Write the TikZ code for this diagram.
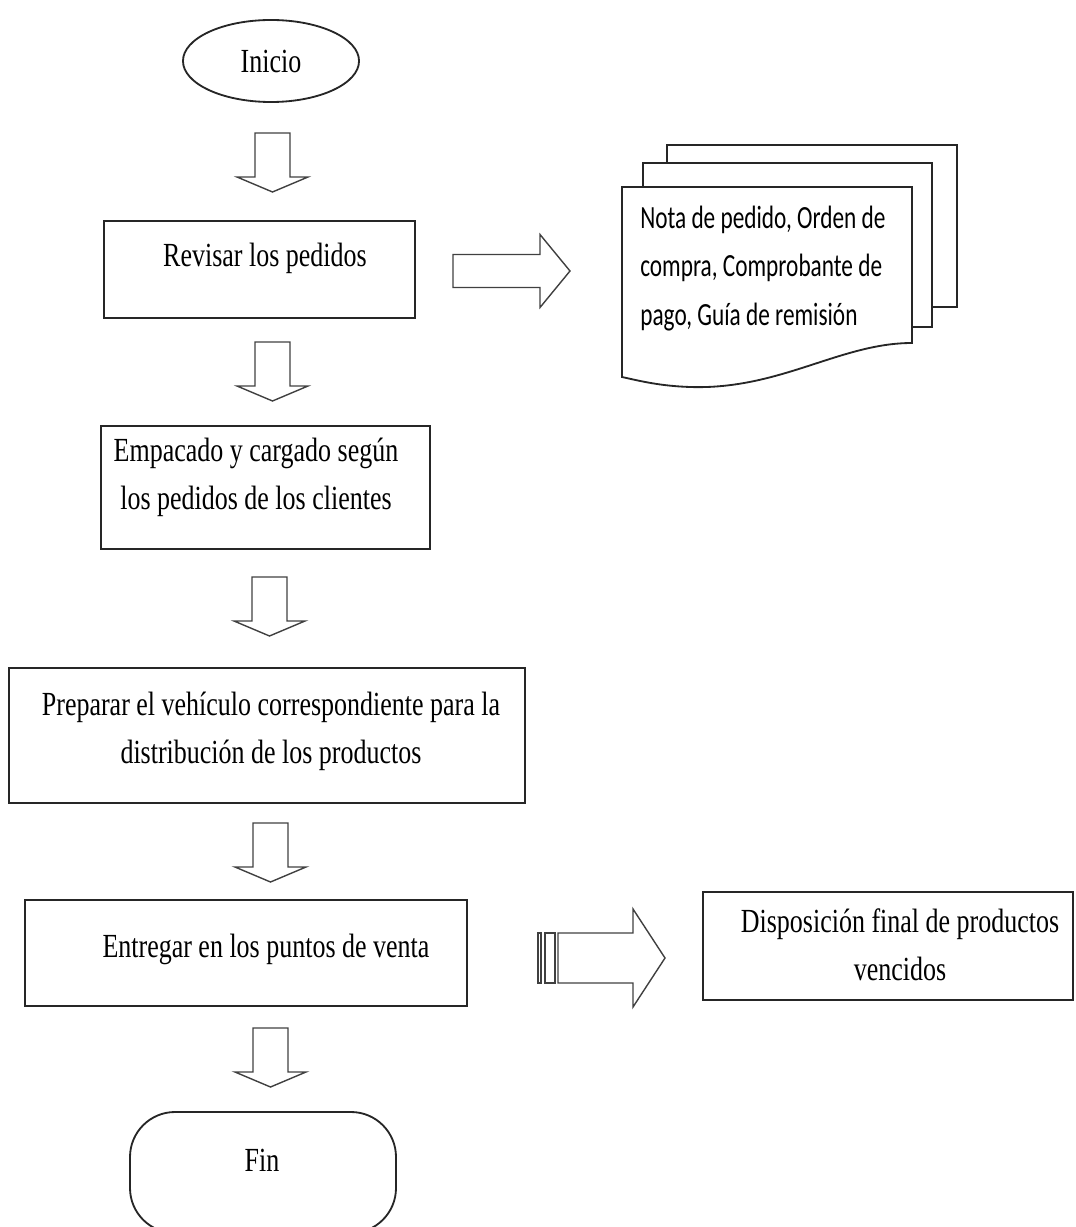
\documentclass[tikz,border=0pt]{standalone}
\usepackage{fontspec}
\setmainfont{Liberation Serif}[FakeStretch=0.77]
\newfontfamily\calibri{Carlito}[FakeStretch=0.72]
\usetikzlibrary{shapes.geometric}
\newcommand{\caja}[4]{\draw[borde] ( #1 , #2 ) rectangle ( #3 , #4 );}
\newcommand{\hoja}[4]{\filldraw[borde, fill=white] ( #1 , #2 ) rectangle ( #3 , #4 );}
\newcommand{\flechabajo}[2]{\draw[flecha] ( #1-17.5 , #2 ) -- ( #1+17.5 , #2 ) -- ( #1+17.5 , #2+44 ) -- ( #1+35.5 , #2+44 ) -- ( #1 , #2+59 ) -- ( #1-35.5 , #2+44 ) -- ( #1-17.5 , #2+44 ) -- cycle;}

\begin{document}
\begin{tikzpicture}[x=0.025cm, y=-0.025cm,
    borde/.style={line width=1.3pt, draw=black!85},
    flecha/.style={line width=1pt, draw=black!75, line join=miter},
    texto/.style={font=\fontsize{24}{33.5}\selectfont, inner sep=0pt, align=center}]
    \clip (0,0) rectangle (1076,1227);

    \node[borde, draw, ellipse, minimum width=4.4cm, minimum height=2.05cm, texto] (inicio) at (271,61) {Inicio};
    \flechabajo{272.5}{133}
    \caja{104}{221}{415}{318}
    \node[texto, anchor=base] (revisar) at (265,267) {Revisar los pedidos};
    \flechabajo{272.5}{342}
    \caja{101}{426}{430}{549}
    \node[texto, anchor=base] (empacado) at (256,509) {Empacado y cargado según\\los pedidos de los clientes};
    \flechabajo{269.5}{577}
    \caja{9}{668}{525}{803}
    \node[texto, anchor=base] (preparar) at (271,763) {Preparar el vehículo correspondiente para la\\distribución de los productos};
    \flechabajo{270.5}{823}
    \caja{25}{900}{467}{1006}
    \node[texto, anchor=base] (entregar) at (266,957) {Entregar en los puntos de venta};
    \flechabajo{270.5}{1028}
    \draw[borde, rounded corners=32pt] (130,1112) rectangle (396,1233);
    \node[texto, anchor=base] (fin) at (262,1171) {Fin};

    % documentos
    \hoja{667}{145}{957}{307}
    \hoja{643}{163}{932}{327}
    \filldraw[borde, fill=white] (622,187) -- (912,187) -- (912,343) .. controls (840,343) and (780,390) .. (690,387) .. controls (660,386) and (640,381) .. (622,377) -- cycle;
    \node[texto, font=\calibri\fontsize{23}{34.4}\selectfont, align=left, anchor=base west] (documento) at (640,325) {Nota de pedido, Orden de\\compra, Comprobante de\\pago, Guía de remisión};
    \draw[flecha] (453,254.5) -- (540,254.5) -- (540,234.5) -- (570,271) -- (540,307.5) -- (540,287.5) -- (453,287.5) -- cycle;

    % vencidos
    \draw[flecha] (538,933) rectangle (541,983);
    \draw[flecha] (545,933) rectangle (555,983);
    \draw[flecha] (558,933) -- (633,933) -- (633,909) -- (665,958) -- (633,1007) -- (633,983) -- (558,983) -- cycle;
    \caja{703}{892}{1073}{1000}
    \node[texto, anchor=base] (disposicion) at (900,980) {Disposición final de productos\\vencidos};

    %\node at (540,1100) {};
\end{tikzpicture}
\end{document}
